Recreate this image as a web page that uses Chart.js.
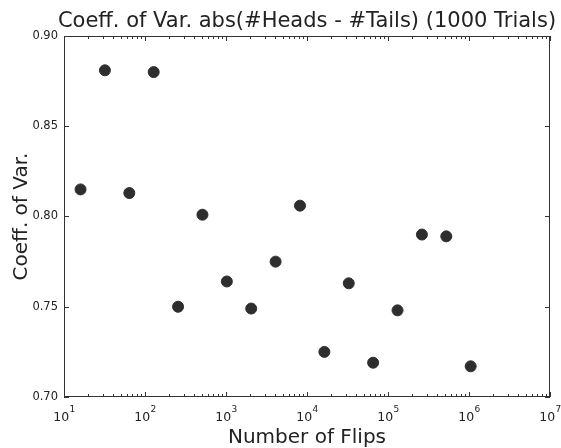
<!DOCTYPE html>
<html>
<head>
<meta charset="utf-8">
<script src="https://cdn.jsdelivr.net/npm/chart.js@4/dist/chart.umd.min.js"></script>
<style>
  html, body { margin: 0; padding: 0; background: #fff; }
  #wrap { width: 561px; height: 448px; }
</style>
</head>
<body>
<div id="wrap"><canvas id="chart" width="561" height="448"></canvas></div>
<script>
// Data
const flips = [16, 32, 64, 128, 256, 512, 1024, 2048, 4096, 8192, 16384,
    32768, 65536, 131072, 262144, 524288, 1048576];
const coeffOfVar = [0.815, 0.881, 0.813, 0.880, 0.750, 0.801, 0.764, 0.749,
    0.775, 0.806, 0.725, 0.763, 0.719, 0.748, 0.790, 0.789, 0.717];
const yTicks = [0.70, 0.75, 0.80, 0.85, 0.90];
const xDecades = [1, 2, 3, 4, 5, 6, 7];

const titleText = "Coeff. of Var. abs(#Heads - #Tails) (1000 Trials)";
const xLabel = "Number of Flips";
const yLabel = "Coeff. of Var.";

const font = "'DejaVu Sans', sans-serif";
const axisColor = "#333";
const textColor = "#222";

// matplotlib look: box, inward ticks on all sides, 10^n labels, titles
const mplLook = {
    id: "mplLook",
    afterDatasetsDraw(chart) {
        const ctx = chart.ctx;
        const a = chart.chartArea;
        const xs = chart.scales.x;
        const ys = chart.scales.y;
        ctx.save();
        ctx.strokeStyle = axisColor;
        ctx.lineWidth = 1;
        ctx.strokeRect(a.left + 0.5, a.top + 0.5, a.right - a.left - 1, a.bottom - a.top - 1);
        ctx.beginPath();
        xDecades.forEach(e => {
            for (let m = 1; m <= 9; m++) {
                if (e === 7 && m > 1) break;
                const v = m * Math.pow(10, e);
                const px = Math.round(xs.getPixelForValue(v)) + 0.5;
                const len = m === 1 ? 5 : 3;
                ctx.moveTo(px, a.bottom);
                ctx.lineTo(px, a.bottom - len);
                ctx.moveTo(px, a.top);
                ctx.lineTo(px, a.top + len);
            }
        });
        yTicks.forEach(v => {
            const py = Math.round(ys.getPixelForValue(v)) + 0.5;
            ctx.moveTo(a.left, py);
            ctx.lineTo(a.left + 5, py);
            ctx.moveTo(a.right, py);
            ctx.lineTo(a.right - 5, py);
        });
        ctx.stroke();

        // x tick labels 10^n
        ctx.fillStyle = textColor;
        ctx.textBaseline = "alphabetic";
        ctx.textAlign = "left";
        xDecades.forEach(e => {
            const px = xs.getPixelForValue(Math.pow(10, e));
            ctx.font = "12.5px " + font;
            const wBase = ctx.measureText("10").width;
            ctx.font = "9px " + font;
            const wExp = ctx.measureText(String(e)).width;
            const x0 = px - (wBase + wExp) / 2;
            ctx.font = "12.5px " + font;
            ctx.fillText("10", x0, a.bottom + 24);
            ctx.font = "9px " + font;
            ctx.fillText(String(e), x0 + wBase + 0.5, a.bottom + 15);
        });

        // titles
        const cx = (a.left + a.right) / 2;
        ctx.textAlign = "center";
        ctx.font = "21px " + font;
        ctx.fillText(titleText, cx, 27);
        ctx.font = "20px " + font;
        ctx.fillText(xLabel, cx, 443);
        ctx.translate(27, (a.top + a.bottom) / 2);
        ctx.rotate(-Math.PI / 2);
        ctx.fillText(yLabel, 0, 0);
        ctx.restore();
    }
};

new Chart(document.getElementById("chart"), {
    type: "scatter",
    data: {
        datasets: [{
            data: flips.map((f, i) => ({ x: f, y: coeffOfVar[i] })),
            backgroundColor: "#2e2e2e",
            borderColor: "#2e2e2e",
            pointRadius: 5.5,
            pointHoverRadius: 5.5
        }]
    },
    options: {
        responsive: false,
        animation: false,
        layout: { padding: { left: 0, right: 11, top: 36, bottom: 0 } },
        plugins: {
            legend: { display: false },
            tooltip: { enabled: false },
            title: { display: false }
        },
        scales: {
            x: {
                type: "logarithmic",
                min: 10,
                max: 1e7,
                grid: { display: false, drawTicks: false },
                border: { display: false },
                ticks: { display: false },
                afterFit: s => { s.height = 51; }
            },
            y: {
                min: 0.70,
                max: 0.90,
                afterBuildTicks: s => { s.ticks = yTicks.map(v => ({ value: v })); },
                grid: { display: false, drawTicks: false },
                border: { display: false },
                ticks: {
                    padding: 6,
                    color: textColor,
                    font: { family: font, size: 11.5 },
                    callback: v => v.toFixed(2)
                },
                afterFit: s => { s.width = 64; }
            }
        }
    },
    plugins: [mplLook]
});
</script>
</body>
</html>
